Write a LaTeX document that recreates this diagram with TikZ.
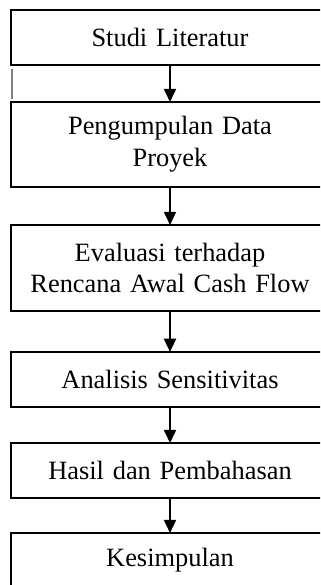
\documentclass[tikz,border=0pt]{standalone}
\usepackage{fontspec}
\setmainfont{Liberation Serif}
\usepackage{tikz}
\usetikzlibrary{arrows.meta,positioning}
\tikzstyle{stepbox} = [rectangle, draw=black, line width=0.9pt, fill=white, text=black, text centered, align=center, font=\fontsize{12}{14.5}\selectfont, minimum width=144.5pt, text width=140pt, outer sep=0pt, inner sep=0pt]
\tikzstyle{tedge}  = [draw, line width=0.9pt, >={Triangle[length=6pt,width=5.5pt]}, ->]

\begin{document}
\begin{tikzpicture}[auto]

% frame of the picture
\clip (0,0) rectangle (145.45pt,-265.9pt);
\useasboundingbox (0,0) rectangle (145.45pt,-265.9pt);

% steps =============================
\node[stepbox, minimum height=25pt, anchor=north] (studi) at (77.27pt,-4.55pt) {Studi Literatur};
\node[stepbox, minimum height=38.6pt, below=16.8pt of studi] (data) {Pengumpulan Data\\Proyek};
\node[stepbox, minimum height=39.1pt, below=17.3pt of data] (eval) {Evaluasi terhadap\\Rencana Awal Cash Flow};
\node[stepbox, minimum height=25pt, below=18.6pt of eval] (sens) {Analisis Sensitivitas};
\node[stepbox, minimum height=25pt, below=16.4pt of sens] (hasil) {Hasil dan Pembahasan};
\node[stepbox, minimum height=25pt, below=15.9pt of hasil] (simpul) {Kesimpulan};

% stray mark left of the first arrow
\coordinate (marka) at (5.45pt,-31.4pt);
\coordinate (markb) at (5.45pt,-45pt);
\draw[gray, line width=0.5pt] (marka) -- (markb);

%edges
\path[tedge] (studi) -- (data);
\path[tedge] (data) -- (eval);
\path[tedge] (eval) -- (sens);
\path[tedge] (sens) -- (hasil);
\path[tedge] (hasil) -- (simpul);

\end{tikzpicture}
\end{document}
